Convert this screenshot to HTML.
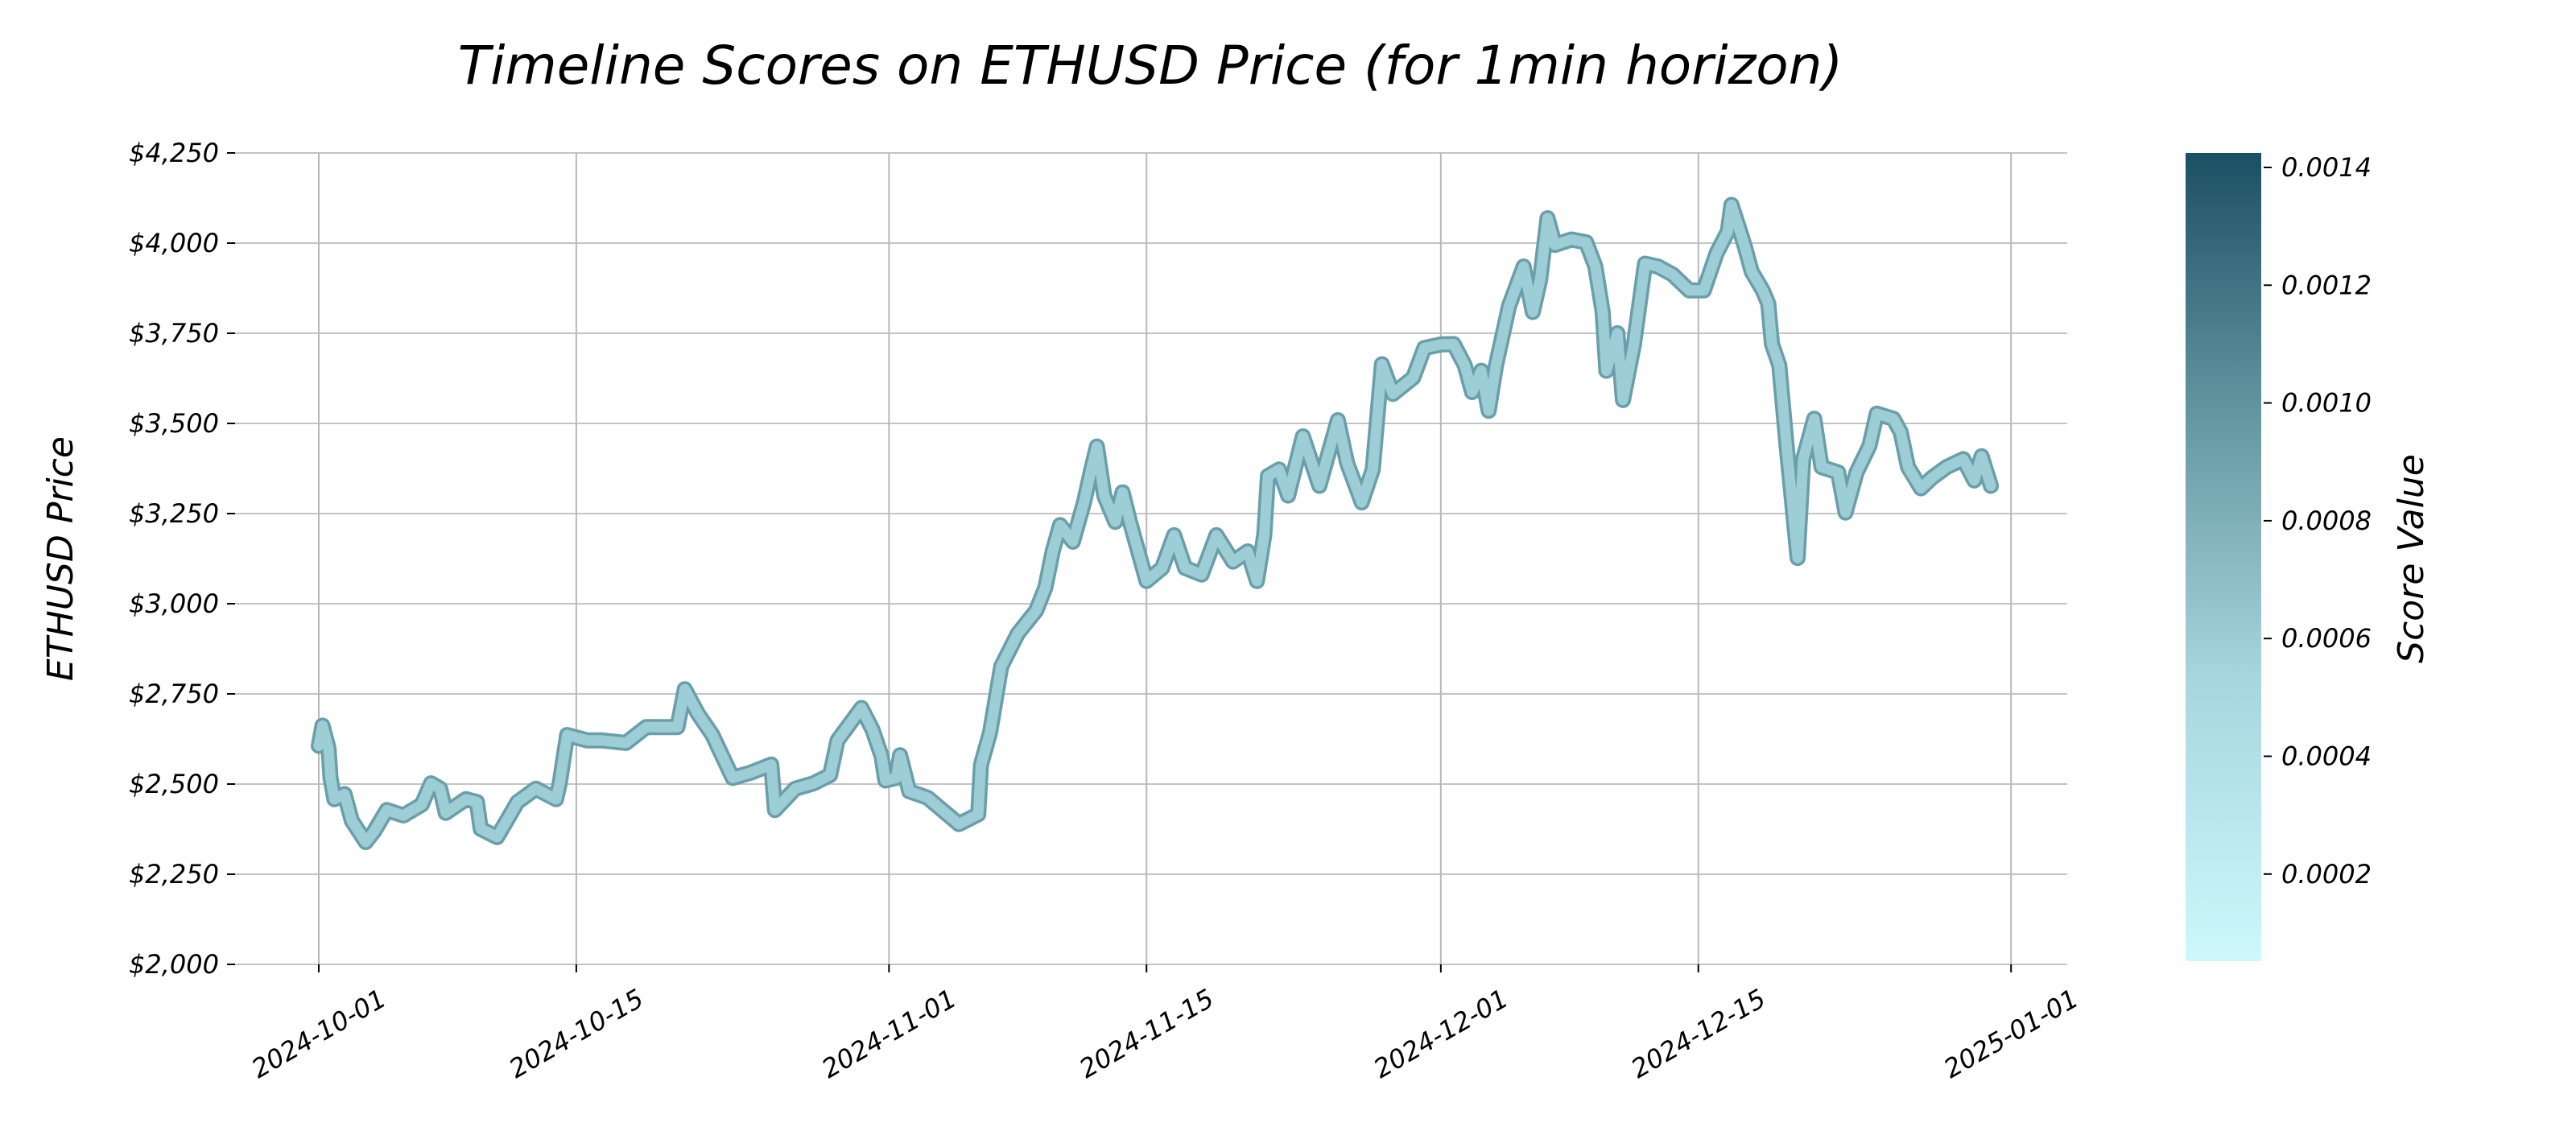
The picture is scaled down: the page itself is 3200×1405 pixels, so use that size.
<!DOCTYPE html>
<html><head><meta charset="utf-8"><style>
html,body{margin:0;padding:0;background:#fff;}
svg text{font-family:"DejaVu Sans","Liberation Sans",sans-serif;font-style:italic;fill:#000;}
</style></head><body>
<svg id="chart" width="3200" height="1400" viewBox="0 0 3200 1400" xmlns="http://www.w3.org/2000/svg">
<defs><linearGradient id="cmap" x1="0" y1="1" x2="0" y2="0">
<stop offset="0" stop-color="#cdf8fc"/><stop offset="0.35" stop-color="#a6d6de"/><stop offset="0.65" stop-color="#6a9ca7"/><stop offset="1" stop-color="#1b4f63"/>
</linearGradient></defs>
<text x="1429" y="104" font-size="66" text-anchor="middle">Timeline Scores on ETHUSD Price (for 1min horizon)</text>
<text transform="translate(90,694) rotate(-90)" font-size="44" text-anchor="middle">ETHUSD Price</text>
<text transform="translate(3010,694) rotate(-90)" font-size="44" text-anchor="middle">Score Value</text>
<g id="grid"></g><g id="series"></g><g id="axes"></g>
<rect x="2715" y="190" width="94" height="1004" fill="url(#cmap)"/>
<g id="cbar"></g>
</svg>
<script>
const days=[0,0.2,0.53,0.64,0.85,1.4,1.8,2.55,3.0,3.7,4.6,5.6,6.1,6.6,6.9,8.0,8.6,8.8,9.7,10.8,11.8,12.9,13.1,13.5,14.6,15.4,16.7,17.8,19.5,19.9,20.6,21.4,22.5,23.5,24.6,24.8,25.9,26.9,27.8,28.2,29.5,30.1,30.6,30.8,31.4,31.6,32.1,33.1,34.8,35.85,36,36.5,37.1,38,39,39.5,39.9,40.3,41,41.6,42,42.3,42.7,43.3,43.7,44.1,45,45.85,46.5,47.1,48,48.8,49.7,50.5,51,51.4,51.6,52.2,52.7,53.5,54.4,55.4,55.9,56.7,57.3,57.8,58.4,59.5,60.1,61,61.7,62.3,62.7,63.2,63.6,64,64.7,65.5,66,66.4,66.8,67.2,68.1,68.9,69.4,69.8,70,70.6,70.9,71.5,72.1,72.8,73.6,74.5,75.3,76,76.6,76.8,77.5,77.9,78.5,78.8,79,79.4,79.8,80.4,80.7,81.3,81.7,82.6,83,83.6,84.3,84.7,85.6,86,86.4,87.1,87.7,88.5,89.4,90,90.4,90.9];
const prices=[2606,2662,2599,2517,2458,2472,2398,2339,2368,2428,2413,2443,2502,2487,2420,2458,2450,2376,2353,2450,2487,2458,2502,2636,2621,2621,2614,2658,2658,2763,2696,2636,2517,2532,2554,2428,2487,2502,2525,2621,2711,2651,2577,2510,2517,2580,2480,2462,2389,2416,2553,2644,2826,2917,2981,3045,3145,3218,3172,3281,3372,3436,3300,3227,3309,3227,3063,3099,3190,3099,3081,3190,3117,3145,3063,3190,3354,3372,3300,3464,3327,3509,3391,3281,3372,3664,3582,3627,3709,3719,3720,3661,3587,3646,3535,3661,3824,3935,3809,3898,4069,3995,4010,4002,3935,3809,3646,3750,3565,3720,3943,3935,3913,3869,3869,3973,4032,4106,3995,3921,3869,3832,3720,3661,3438,3127,3401,3513,3379,3364,3253,3364,3438,3527,3513,3476,3379,3320,3349,3379,3401,3342,3409,3327];
const yTicks=[2000,2250,2500,2750,3000,3250,3500,3750,4000,4250];
const xTickDays=[0,14,31,45,61,75,92];
const xTickLabels=["2024-10-01","2024-10-15","2024-11-01","2024-11-15","2024-12-01","2024-12-15","2025-01-01"];
const cbTicks=[0.0002,0.0004,0.0006,0.0008,0.0010,0.0012,0.0014];
const NS="http://www.w3.org/2000/svg";
const X=d=>396+d*22.85;
const Y=p=>1198-(p-2000)*(1198-190)/2250;
const CB=v=>208-(v-0.0014)/0.0002*146.3;
function mk(tag,attrs,parent){const e=document.createElementNS(NS,tag);for(const k in attrs)e.setAttribute(k,attrs[k]);parent.appendChild(e);return e;}
const grid=document.getElementById('grid'),axes=document.getElementById('axes'),series=document.getElementById('series'),cbar=document.getElementById('cbar');
yTicks.forEach(v=>{
 const l=mk('line',{x1:292,x2:2568,y1:Y(v),y2:Y(v),stroke:'#c4c4c4','stroke-width':2},grid);
 
 
 const t=mk('line',{x1:282,x2:292,y1:Y(v),y2:Y(v),stroke:'#000','stroke-width':2},axes);
 
 
 const tx=mk('text',{x:272,y:Y(v)+11,'font-size':32,'text-anchor':'end'},axes);
 tx.textContent='$'+v.toLocaleString('en-US');
 
 
});
xTickDays.forEach((d,i)=>{
 const l=mk('line',{x1:X(d),x2:X(d),y1:190,y2:1198,stroke:'#b8b8b8','stroke-width':2},grid);
 
 
 const t=mk('line',{x1:X(d),x2:X(d),y1:1198,y2:1208,stroke:'#000','stroke-width':2},axes);
 
 
 const tx=mk('text',{transform:`translate(${X(d)},1284) rotate(-30)`,'font-size':32,'text-anchor':'middle','dominant-baseline':'central'},axes);
 tx.textContent=xTickLabels[i];
 
 
});
const pts=days.map((d,i)=>X(d).toFixed(1)+','+Y(prices[i]).toFixed(1)).join(' ');
const outer=mk('polyline',{points:pts,fill:'none',stroke:'#6a9eab','stroke-width':20,'stroke-linejoin':'round','stroke-linecap':'round'},series);


const inner=mk('polyline',{points:pts,fill:'none',stroke:'#9dcdd5','stroke-width':13,'stroke-linejoin':'round','stroke-linecap':'round'},series);


cbTicks.forEach(v=>{
 const t=mk('line',{x1:2812,x2:2822,y1:CB(v),y2:CB(v),stroke:'#000','stroke-width':2},cbar);
 
 
 const tx=mk('text',{x:2834,y:CB(v)+11,'font-size':32},cbar);
 tx.textContent=v.toFixed(4);
 
 
});
</script>
</body></html>
